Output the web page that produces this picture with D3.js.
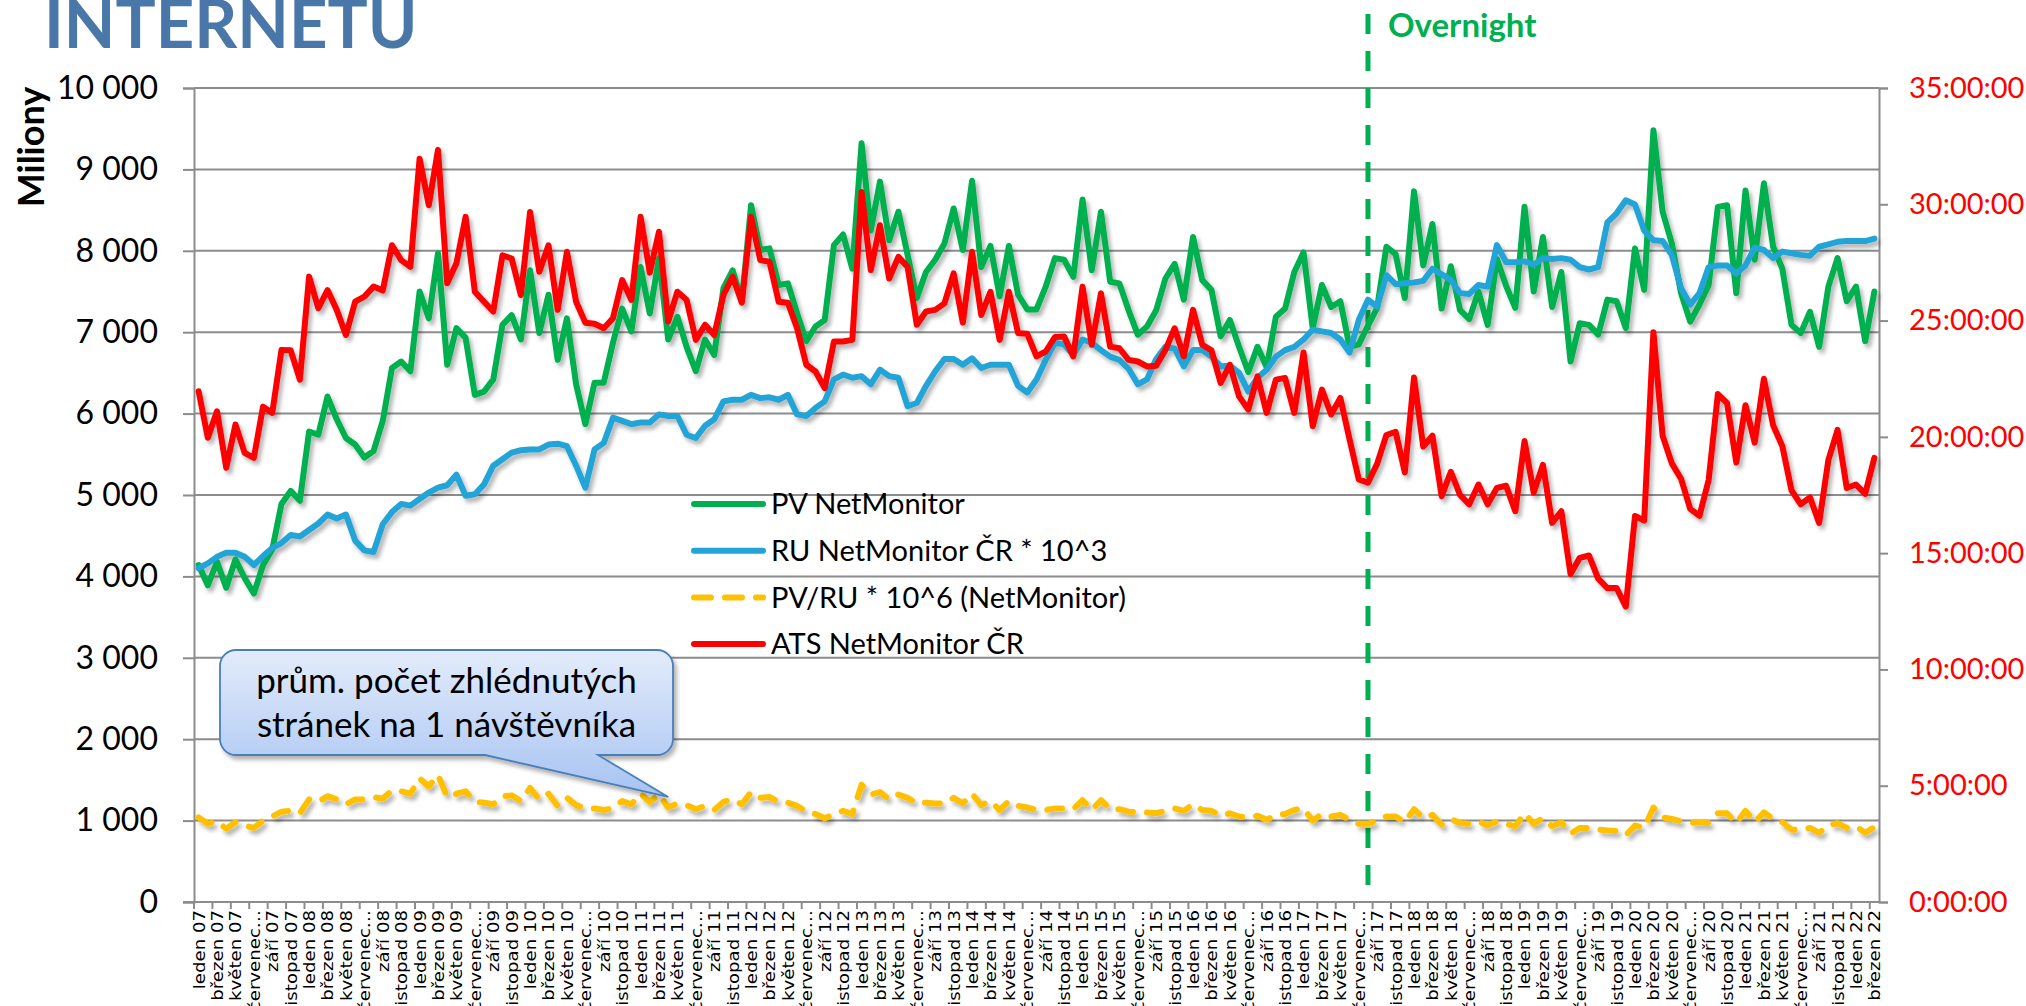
<!DOCTYPE html>
<html>
<head>
<meta charset="utf-8">
<script src="https://cdn.jsdelivr.net/npm/d3@7"></script>
<style>
  html, body { margin: 0; padding: 0; background: #ffffff; overflow: hidden; }
  svg { display: block; }
</style>
</head>
<body>
<script>
// ---------------- DATA ----------------
const monthNames = ['leden','únor','březen','duben','květen','červen','červenec','srpen','září','říjen','listopad','prosinec'];
const years = ['07','08','09','10','11','12','13','14','15','16','17','18','19','20','21','22'];
const lastYearMonths = 3; // data end: březen 22

// PV NetMonitor (millions) — left axis
const pvNetMonitor = [
  4140,3890,4180,3860,4210,3980,3790,4140,4330,4890,5050,4930,
  5780,5740,6210,5930,5700,5620,5460,5540,5910,6560,6640,6520,
  7500,7170,7970,6600,7050,6930,6230,6270,6420,7090,7210,6910,
  7760,6990,7460,6660,7170,6360,5870,6380,6380,6870,7290,7010,
  7800,7230,7910,6910,7190,6820,6520,6910,6720,7540,7760,7380,
  8560,8010,8030,7580,7600,7230,6890,7070,7150,8070,8200,7780,
  9320,8250,8850,8130,8480,7950,7420,7740,7890,8090,8520,8010,
  8860,7800,8060,7440,8060,7460,7280,7280,7560,7910,7890,7680,
  8630,7760,8480,7620,7600,7270,6970,7070,7270,7660,7840,7400,
  8170,7640,7520,6950,7150,6820,6510,6820,6570,7190,7290,7740,
  7980,7050,7580,7310,7380,6820,6850,7080,7300,8050,7960,7420,
  8730,7820,8330,7290,7810,7270,7160,7500,7090,7900,7570,7300,
  8540,7500,8170,7310,7740,6640,7110,7090,6970,7400,7380,7050,
  8030,7520,9480,8480,8090,7480,7130,7340,7580,8540,8560,7480,
  8740,7890,8830,8050,7780,7090,6990,7250,6820,7560,7910,7380,
  7560,6890,7500
];

// RU NetMonitor ČR * 10^3 — left axis
const ruNetMonitor = [
  4100,4160,4240,4290,4290,4240,4140,4250,4350,4410,4510,4490,
  4570,4650,4760,4710,4760,4440,4320,4300,4640,4790,4890,4870,
  4950,5030,5090,5120,5250,4990,5010,5130,5360,5440,5520,5550,
  5560,5560,5620,5630,5600,5360,5090,5560,5640,5950,5910,5870,
  5890,5890,5990,5970,5970,5740,5700,5850,5930,6150,6170,6170,
  6230,6190,6200,6170,6230,5990,5970,6070,6150,6420,6480,6440,
  6460,6360,6540,6460,6440,6090,6130,6340,6520,6670,6670,6600,
  6680,6560,6600,6600,6600,6340,6260,6420,6660,6870,6850,6720,
  6910,6870,6780,6700,6660,6550,6360,6420,6670,6820,6800,6580,
  6780,6780,6700,6580,6590,6500,6270,6440,6540,6700,6780,6820,
  6910,7030,7010,6990,6910,6750,7150,7400,7310,7700,7590,7600,
  7610,7630,7780,7710,7640,7480,7470,7580,7560,8070,7860,7860,
  7870,7830,7910,7900,7910,7890,7800,7770,7800,8350,8460,8620,
  8570,8250,8130,8120,7950,7540,7340,7480,7800,7820,7820,7720,
  7820,8040,8010,7910,7990,7970,7950,7940,8050,8080,8110,8120,
  8120,8120,8150
];

// PV/RU * 10^6 (NetMonitor) — left axis
const pvPerRu = [
  1040,960,990,900,980,940,910,1000,1050,1110,1120,1090,
  1260,1230,1300,1260,1200,1260,1260,1290,1270,1370,1360,1330,
  1520,1420,1560,1290,1330,1360,1230,1220,1200,1300,1310,1240,
  1400,1260,1330,1180,1280,1190,1150,1150,1130,1150,1240,1200,
  1330,1230,1320,1160,1210,1190,1140,1180,1130,1230,1260,1200,
  1350,1280,1290,1230,1220,1180,1110,1080,1030,1080,1120,1080,
  1440,1320,1350,1260,1320,1280,1210,1220,1210,1210,1280,1210,
  1330,1190,1240,1130,1240,1180,1160,1130,1130,1150,1150,1140,
  1250,1130,1250,1140,1140,1110,1100,1100,1090,1120,1150,1120,
  1200,1130,1120,1060,1090,1050,1040,1060,1010,1070,1080,1130,
  1150,1000,1080,1050,1070,1010,960,960,1000,1050,1050,980,
  1140,1030,1070,950,1020,970,960,990,940,990,960,930,
  1090,960,1030,930,980,840,910,910,890,880,870,820,
  940,910,1160,1040,1020,990,970,980,970,1090,1090,970,
  1120,980,1100,1020,980,890,880,910,850,940,970,910,
  930,850,920
];

// ATS NetMonitor ČR (hours per user) — right axis
const atsHours = [
  21.96,19.96,21.1,18.67,20.53,19.31,19.1,21.3,21.03,23.74,23.72,22.46,
  26.89,25.53,26.31,25.46,24.38,25.81,26.03,26.46,26.29,28.24,27.6,27.31,
  31.96,29.96,32.34,26.6,27.46,29.46,26.24,25.81,25.39,27.81,27.67,26.1,
  29.67,27.1,28.24,25.46,27.96,25.81,24.91,24.86,24.67,25.1,26.74,25.89,
  29.46,27.06,28.82,24.96,26.24,25.89,24.17,24.82,24.38,26.1,26.89,25.77,
  29.46,27.6,27.53,25.81,25.77,24.67,23.1,22.81,22.1,24.1,24.1,24.17,
  30.53,27.17,29.1,26.81,27.74,27.31,24.82,25.39,25.46,25.74,27.03,24.91,
  27.96,25.24,26.24,24.17,26.24,24.46,24.43,23.46,23.67,24.29,24.31,23.46,
  26.46,23.96,26.17,23.88,23.81,23.31,23.24,23.03,23.06,23.74,24.67,23.46,
  25.46,23.96,23.72,22.32,23.1,21.74,21.17,22.6,21.03,22.46,22.53,21.03,
  23.63,20.46,22.03,20.96,21.67,19.89,18.17,18.03,18.85,20.08,20.22,18.47,
  22.55,19.58,20.05,17.45,18.5,17.5,17.1,17.95,17.1,17.8,17.9,16.8,
  19.82,17.6,18.8,16.3,16.8,14.1,14.8,14.9,13.9,13.5,13.5,12.7,
  16.6,16.4,24.5,20.05,18.86,18.2,16.9,16.6,18.15,21.84,21.45,18.9,
  21.36,19.75,22.5,20.5,19.6,17.7,17.1,17.4,16.3,19.0,20.3,17.8,
  17.95,17.55,19.1
];

const leftTicks = [0,1000,2000,3000,4000,5000,6000,7000,8000,9000,10000];
const rightTicks = [0,5,10,15,20,25,30,35];
const seriesNames = ['PV NetMonitor','RU NetMonitor ČR * 10^3','PV/RU * 10^6 (NetMonitor)','ATS NetMonitor ČR'];
const overnightCategory = 'srpen 17';
const calloutLines = ['prům. počet zhlédnutých','stránek na 1 návštěvníka'];
const calloutTarget = { category: 'duben 11', value: 1290 };
const titleText = 'INTERNETU';
const yAxisTitle = 'Miliony';

// categories
const categories = [];
years.forEach((yy, yi) => {
  const n = yi === years.length - 1 ? lastYearMonths : 12;
  for (let m = 0; m < n; m++) categories.push(monthNames[m] + ' ' + yy);
});
const tickLabel = c => c.startsWith('červenec ') ? 'červenec…' : c;

// ---------------- LAYOUT ----------------
const W = 2026, H = 1006;
const plot = { left: 194, right: 1879, top: 88, bottom: 902 };
const FONT = "Lato, 'Open Sans', 'Liberation Sans', sans-serif";

const svg = d3.select('body').append('svg').attr('width', W).attr('height', H)
  .attr('viewBox', `0 0 ${W} ${H}`);
svg.append('rect').attr('width', W).attr('height', H).attr('fill', '#fff');

const defs = svg.append('defs');
const f = defs.append('filter').attr('id', 'shadow').attr('filterUnits', 'userSpaceOnUse')
  .attr('x', 0).attr('y', 0).attr('width', W).attr('height', H);
f.append('feGaussianBlur').attr('in', 'SourceAlpha').attr('stdDeviation', 2.2).attr('result', 'b');
f.append('feOffset').attr('in', 'b').attr('dx', 3).attr('dy', 4).attr('result', 'o');
f.append('feComponentTransfer').attr('in', 'o').attr('result', 'oa')
  .append('feFuncA').attr('type', 'linear').attr('slope', 0.3);
const fm = f.append('feMerge');
fm.append('feMergeNode').attr('in', 'oa');
fm.append('feMergeNode').attr('in', 'SourceGraphic');

const grad = defs.append('linearGradient').attr('id', 'calloutGrad')
  .attr('x1', 0).attr('y1', 0).attr('x2', 0).attr('y2', 1);
grad.append('stop').attr('offset', '0%').attr('stop-color', '#e3ecfb');
grad.append('stop').attr('offset', '100%').attr('stop-color', '#a6c3f2');

// scales
const x = d3.scaleBand().domain(categories).range([plot.left, plot.right]).paddingInner(0).paddingOuter(0);
const cx = c => x(c) + x.bandwidth() / 2;
const yL = d3.scaleLinear().domain([0, 10000]).range([plot.bottom, plot.top]);
const yR = d3.scaleLinear().domain([0, 35]).range([plot.bottom, plot.top]);

const GRID = '#8c8c8c';

// gridlines
svg.append('g').selectAll('line').data(leftTicks.filter(t => t > 0)).join('line')
  .attr('x1', plot.left).attr('x2', plot.right)
  .attr('y1', d => yL(d)).attr('y2', d => yL(d))
  .attr('stroke', GRID).attr('stroke-width', 2);

// left axis
const gL = svg.append('g').attr('transform', `translate(${plot.left},0)`)
  .call(d3.axisLeft(yL).tickValues(leftTicks).tickSize(11).tickPadding(25)
    .tickFormat(d => d3.format(',')(d).replace(/,/g, ' ')));
gL.select('.domain').attr('stroke', GRID).attr('stroke-width', 2);
gL.selectAll('.tick line').attr('stroke', GRID).attr('stroke-width', 2);
gL.selectAll('.tick text').attr('fill', '#000').style('font-family', FONT).style('font-size', '32px');

// right axis
const gR = svg.append('g').attr('transform', `translate(${plot.right},0)`)
  .call(d3.axisRight(yR).tickValues(rightTicks).tickSize(9).tickPadding(21)
    .tickFormat(d => d + ':00:00'));
gR.select('.domain').attr('stroke', GRID).attr('stroke-width', 2);
gR.selectAll('.tick line').attr('stroke', GRID).attr('stroke-width', 2);
gR.selectAll('.tick text').attr('fill', '#ff0000').style('font-family', FONT).style('font-size', '29px');

// bottom axis line + ticks
const gB = svg.append('g');
gB.append('line').attr('x1', plot.left - 11).attr('x2', plot.right)
  .attr('y1', plot.bottom).attr('y2', plot.bottom).attr('stroke', GRID).attr('stroke-width', 2);
const tickCats = categories.filter((c, i) => i % 2 === 0);
gB.selectAll('line.tk').data(tickCats).join('line').attr('class', 'tk')
  .attr('x1', d => x(d)).attr('x2', d => x(d))
  .attr('y1', plot.bottom).attr('y2', plot.bottom + 7)
  .attr('stroke', GRID).attr('stroke-width', 2);
gB.selectAll('text').data(tickCats).join('text')
  .attr('transform', d => `translate(${cx(d)},${plot.bottom + 8}) rotate(-90) scale(1.1,1)`)
  .attr('text-anchor', 'end').attr('dy', '0.36em')
  .style('font-family', "'DejaVu Sans', sans-serif").style('font-size', '16.5px')
  .attr('fill', '#000')
  .text(d => tickLabel(d));

// y axis title
svg.append('text').attr('transform', `translate(44,147) rotate(-90)`)
  .attr('text-anchor', 'middle').style('font-family', FONT).style('font-weight', 'bold')
  .style('font-size', '36px').attr('fill', '#000').text(yAxisTitle);

// title (partially cut at top)
svg.append('text').attr('x', 44).attr('y', 48)
  .style('font-family', FONT).style('font-weight', 'bold').style('font-size', '67px')
  .attr('fill', '#4a77a9').text(titleText);

// overnight marker
const ox = cx(overnightCategory);
svg.append('line').attr('x1', ox).attr('x2', ox).attr('y1', 14).attr('y2', plot.bottom)
  .attr('stroke', '#00b050').attr('stroke-width', 5).attr('stroke-dasharray', '20 17');
svg.append('text').attr('x', ox + 20).attr('y', 37)
  .style('font-family', FONT).style('font-weight', 'bold').style('font-size', '33px')
  .attr('fill', '#00b050').text('Overnight');

// series
const series = [
  { name: seriesNames[0], values: pvNetMonitor, y: yL, color: '#00b050', dash: null },
  { name: seriesNames[1], values: ruNetMonitor, y: yL, color: '#22a4d6', dash: null },
  { name: seriesNames[2], values: pvPerRu, y: yL, color: '#ffc000', dash: '15 14' },
  { name: seriesNames[3], values: atsHours, y: yR, color: '#ff0000', dash: null }
];
const gS = svg.append('g').attr('filter', 'url(#shadow)');
series.forEach(s => {
  const line = d3.line().x((d, i) => cx(categories[i])).y(d => s.y(d));
  gS.append('path').datum(s.values).attr('d', line)
    .attr('fill', 'none').attr('stroke', s.color).attr('stroke-width', 6)
    .attr('stroke-linejoin', 'round').attr('stroke-linecap', 'round')
    .attr('stroke-dasharray', s.dash);
});

// legend
const lg = svg.append('g').attr('transform', 'translate(692,504)');
series.forEach((s, i) => {
  const g = lg.append('g').attr('transform', `translate(0,${i * 46.7})`);
  g.append('line').attr('x1', 2).attr('x2', 71).attr('y1', 0).attr('y2', 0)
    .attr('stroke', s.color).attr('stroke-width', 6).attr('stroke-linecap', 'round')
    .attr('stroke-dasharray', s.dash ? '17 14' : null);
  g.append('text').attr('x', 79).attr('y', 0).attr('dy', '0.35em')
    .style('font-family', FONT).style('font-size', '29px').attr('fill', '#000').text(s.name);
});

// callout
const tipX = cx(calloutTarget.category), tipY = yL(calloutTarget.value);
const bx0 = 220, by0 = 650, bx1 = 673, by1 = 755, r = 16;
const t1 = 485, t2 = 598;
const p = d3.path();
p.moveTo(bx0 + r, by0); p.lineTo(bx1 - r, by0); p.arcTo(bx1, by0, bx1, by0 + r, r);
p.lineTo(bx1, by1 - r); p.arcTo(bx1, by1, bx1 - r, by1, r);
p.lineTo(t2, by1); p.lineTo(tipX, tipY); p.lineTo(t1, by1);
p.lineTo(bx0 + r, by1); p.arcTo(bx0, by1, bx0, by1 - r, r);
p.lineTo(bx0, by0 + r); p.arcTo(bx0, by0, bx0 + r, by0, r); p.closePath();
svg.append('path').attr('d', p.toString()).attr('fill', 'url(#calloutGrad)')
  .attr('stroke', '#4a7ebb').attr('stroke-width', 1.8).attr('filter', 'url(#shadow)');
calloutLines.forEach((t, i) => {
  svg.append('text').attr('x', (bx0 + bx1) / 2).attr('y', 693 + i * 44)
    .attr('text-anchor', 'middle').style('font-family', FONT).style('font-size', '35px')
    .attr('fill', '#000').text(t);
});
</script>
</body>
</html>
